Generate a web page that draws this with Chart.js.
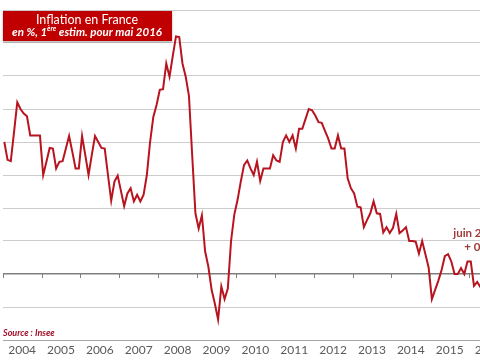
<!DOCTYPE html>
<html>
<head>
<meta charset="utf-8">
<script src="https://cdn.jsdelivr.net/npm/chart.js@4.4.1/dist/chart.umd.min.js"></script>
<style>
html, body { margin: 0; padding: 0; overflow: hidden; background: #fff; width: 480px; height: 360px; }
#wrap { width: 508px; height: 360px; }
</style>
</head>
<body>
<div id="wrap"><canvas id="chart" width="508" height="360"></canvas></div>
<script>
// year labels on the x axis
const years = ["2004", "2005", "2006", "2007", "2008", "2009", "2010", "2011", "2012", "2013", "2014", "2015", "2016"];

// inflation, % over one year, month by month (Insee)
const infl2004 = [2.0, 1.73, 1.71, 2.15, 2.6, 2.5, 2.43, 2.39, 2.1, 2.1, 2.1, 2.1];
const infl2005 = [1.5, 1.7, 1.91, 1.9, 1.6, 1.7, 1.71, 1.9, 2.09, 1.85, 1.6, 1.6];
const infl2006 = [2.09, 1.8, 1.5, 1.8, 2.09, 2.0, 1.91, 1.9, 1.5, 1.11, 1.4, 1.49];
const infl2007 = [1.26, 1.03, 1.22, 1.3, 1.1, 1.2, 1.1, 1.2, 1.5, 2.0, 2.38, 2.56];
const infl2008 = [2.79, 2.8, 3.19, 2.99, 3.3, 3.6, 3.59, 3.19, 2.99, 2.7, 1.8, 0.92];
const infl2009 = [0.69, 0.89, 0.34, 0.11, -0.24, -0.45, -0.69, -0.19, -0.38, -0.22, 0.5, 0.9];
const infl2010 = [1.12, 1.4, 1.65, 1.72, 1.6, 1.5, 1.7, 1.41, 1.6, 1.6, 1.6, 1.8];
const infl2011 = [1.72, 1.7, 2.0, 2.1, 2.0, 2.1, 1.9, 2.2, 2.2, 2.35, 2.5, 2.48];
const infl2012 = [2.4, 2.3, 2.29, 2.17, 2.05, 1.9, 1.9, 2.1, 1.9, 1.9, 1.45, 1.3];
const infl2013 = [1.22, 1.02, 1.01, 0.71, 0.82, 0.92, 1.1, 0.92, 0.91, 0.63, 0.71, 0.62];
const infl2014 = [0.7, 0.91, 0.62, 0.66, 0.71, 0.5, 0.5, 0.49, 0.31, 0.5, 0.3, 0.1];
const infl2015 = [-0.38, -0.24, -0.1, 0.06, 0.27, 0.3, 0.19, 0.0, 0.0, 0.09, 0.0, 0.19];
const infl2016 = [0.19, -0.18, -0.12, -0.2, 0.1];

const monthly = [].concat(infl2004, infl2005, infl2006, infl2007, infl2008, infl2009,
  infl2010, infl2011, infl2012, infl2013, infl2014, infl2015, infl2016);
// x = months since january 2004, point in the middle of its month
const points = monthly.map((v, i) => ({ x: i + 0.5, y: v }));

const red = "#b8141f";
const font = "Lato, 'Open Sans', sans-serif";

const decor = {
  id: "decor",
  afterDraw(chart) {
    const ctx = chart.ctx;
    const xs = chart.scales.x, ys = chart.scales.y;
    ctx.save();

    // little year marks under the zero line
    const y0 = ys.getPixelForValue(0);
    ctx.strokeStyle = "#7f7f7f";
    ctx.lineWidth = 1;
    for (let k = 0; k <= years.length; k++) {
      const x = Math.round(xs.getPixelForValue(12 * k)) + 0.5;
      ctx.beginPath();
      ctx.moveTo(x, y0);
      ctx.lineTo(x, y0 + 4);
      ctx.stroke();
    }

    // title box
    ctx.shadowColor = "rgba(0,0,0,0.35)";
    ctx.shadowBlur = 2;
    ctx.shadowOffsetY = 1;
    ctx.fillStyle = "#c00000";
    ctx.fillRect(3, 11, 169, 30);
    ctx.shadowColor = "transparent";

    ctx.fillStyle = "#fff";
    ctx.textBaseline = "middle";
    ctx.textAlign = "center";
    ctx.font = "12.5px " + font;
    ctx.fillText("Inflation en France", 87, 19.5);

    ctx.textAlign = "left";
    const a = "en %, 1", sup = "ère", b = " estim. pour mai 2016";
    const big = "italic bold 11.5px " + font, small = "italic bold 7px " + font;
    ctx.font = big; const wa = ctx.measureText(a).width, wb = ctx.measureText(b).width;
    ctx.font = small; const ws = ctx.measureText(sup).width;
    let x = 87 - (wa + ws + wb) / 2;
    ctx.font = big; ctx.fillText(a, x, 32); x += wa;
    ctx.font = small; ctx.fillText(sup, x, 28.5); x += ws;
    ctx.font = big; ctx.fillText(b, x, 32);

    // source
    ctx.fillStyle = "#a0102a";
    ctx.font = "italic bold 9px " + font;
    ctx.textBaseline = "alphabetic";
    ctx.fillText("Source : Insee", 3, 336);

    // annotation at the end of the line
    ctx.fillStyle = "#a03c3c";
    ctx.font = "bold 11.5px " + font;
    ctx.textAlign = "left";
    ctx.textBaseline = "middle";
    ctx.fillText("juin 2016", xs.getPixelForValue(139.1), ys.getPixelForValue(0.62));
    ctx.fillText("+ 0,1 %", xs.getPixelForValue(142.5), ys.getPixelForValue(0.41));
    ctx.restore();
  }
};

new Chart(document.getElementById("chart"), {
  type: "line",
  data: {
    datasets: [{
      data: points,
      borderColor: red,
      borderWidth: 2,
      pointRadius: 0,
      tension: 0,
      fill: false
    }]
  },
  options: {
    responsive: false,
    animation: false,
    layout: { padding: { left: 2.7, right: 0, top: 10, bottom: 0 } },
    plugins: { legend: { display: false }, tooltip: { enabled: false } },
    scales: {
      x: {
        type: "linear",
        min: 0,
        max: 156,
        grid: { display: false, drawTicks: false },
        border: { display: false },
        afterBuildTicks: s => { s.ticks = years.map((y, k) => ({ value: 12 * k + 6 })); },
        afterFit: s => { s.height = 20; },
        ticks: {
          autoSkip: false,
          maxRotation: 0,
          padding: 3,
          color: "#5a5a5a",
          font: { family: font, size: 12 },
          callback: (v, i) => years[i]
        }
      },
      y: {
        min: -1,
        max: 4,
        afterFit: s => { s.width = 0; },
        ticks: { display: false, stepSize: 0.5 },
        border: { display: false },
        grid: {
          drawTicks: false,
          color: c => c.tick.value === 0 ? "#7f7f7f" : (c.tick.value === -1 ? "#a6a6a6" : "#cccccc"),
          lineWidth: c => c.tick.value === 0 ? 1.4 : 1
        }
      }
    }
  },
  plugins: [decor]
});
</script>
</body>
</html>
